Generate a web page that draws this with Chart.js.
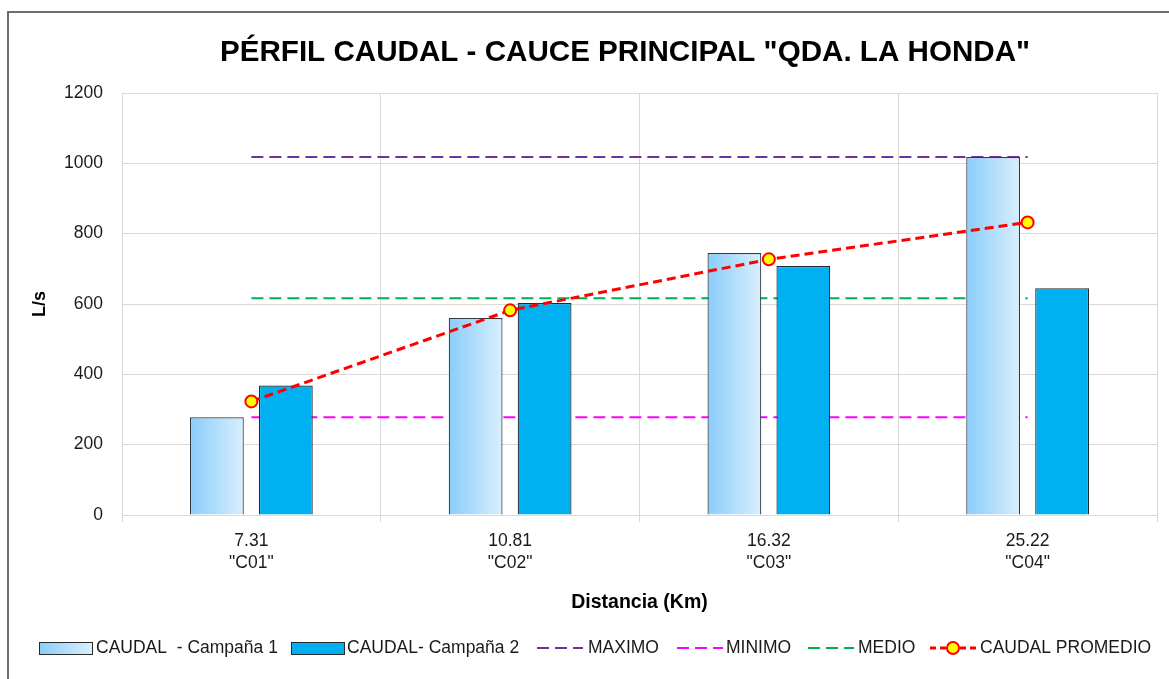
<!DOCTYPE html>
<html>
<head>
<meta charset="utf-8">
<script src="https://cdn.jsdelivr.net/npm/chart.js@4.4.1/dist/chart.umd.min.js"></script>
<style>
  html, body { margin: 0; padding: 0; background: #ffffff; }
  #wrap { position: relative; width: 1169px; height: 679px; }
  canvas { display: block; }
</style>
</head>
<body>
<div id="wrap"><canvas id="chart" width="1169" height="679"></canvas></div>
<script>
// Caudal measured at each control point, two field campaigns (L/s)
const distancias = ['7.31', '10.81', '16.32', '25.22'];
const puntos = ['"C01"', '"C02"', '"C03"', '"C04"'];
const campana1 = [278, 560, 745, 1018];
const campana2 = [368, 603, 708, 645];
const maximo = [1018, 1018, 1018, 1018];
const minimo = [278, 278, 278, 278];
const medio = [616, 616, 616, 616];
const promedio = [323, 582, 727, 832];
const yTicks = [0, 200, 400, 600, 800, 1000, 1200];

const SANS = '"Liberation Sans", Arial, sans-serif';
const TXT = 17.5;

const CAT_PCT = 0.533;
const BAR_PCT = 0.78;

// Light gradient fill for the first campaign bars
function gradCampana1(ctx) {
  const chart = ctx.chart;
  const xs = chart.scales.x;
  if (!chart.chartArea || !xs || ctx.dataIndex === undefined) return '#b4defb';
  const catW = xs.width / distancias.length;
  const band = catW * CAT_PCT;
  const barW = band / 2 * BAR_PCT;
  const cx = xs.getPixelForValue(ctx.dataIndex) - band / 4;
  const g = chart.ctx.createLinearGradient(cx - barW / 2, 0, cx + barW / 2, 0);
  g.addColorStop(0, '#8acdfa');
  g.addColorStop(1, '#d9effd');
  return g;
}

const marco = {
  id: 'marco',
  beforeDraw(chart) {
    const c = chart.ctx;
    c.save();
    c.fillStyle = '#ffffff';
    c.fillRect(0, 0, chart.width, chart.height);
    c.strokeStyle = '#6e6e6e';
    c.lineWidth = 2;
    c.beginPath();
    c.moveTo(8, chart.height);
    c.lineTo(8, 12);
    c.lineTo(chart.width, 12);
    c.stroke();
    c.restore();
  }
};

const titulo = {
  id: 'titulo',
  afterDraw(chart) {
    const c = chart.ctx;
    c.save();
    c.font = 'bold 29.6px ' + SANS;
    c.fillStyle = '#000000';
    c.textAlign = 'center';
    c.textBaseline = 'alphabetic';
    c.fillText('PÉRFIL CAUDAL - CAUCE PRINCIPAL "QDA. LA HONDA"', 625, 61);
    c.restore();
  }
};

// Legend row along the bottom
const leyenda = {
  id: 'leyenda',
  afterDraw(chart) {
    const c = chart.ctx;
    const y = 648;
    c.save();
    c.font = TXT + 'px ' + SANS;
    c.textBaseline = 'middle';
    c.textAlign = 'left';

    const g1 = c.createLinearGradient(39, 0, 92, 0);
    g1.addColorStop(0, '#8acdfa');
    g1.addColorStop(1, '#d9effd');
    c.fillStyle = g1;
    c.fillRect(39.5, 642.5, 53, 12);
    c.strokeStyle = '#2b2b2b';
    c.lineWidth = 1;
    c.strokeRect(39.5, 642.5, 53, 12);
    c.fillStyle = '#1a1a1a';
    c.fillText('CAUDAL  - Campaña 1', 96, y);

    c.fillStyle = '#00b0f0';
    c.fillRect(291.5, 642.5, 53, 12);
    c.strokeRect(291.5, 642.5, 53, 12);
    c.fillStyle = '#1a1a1a';
    c.fillText('CAUDAL- Campaña 2', 347, y);

    const lineas = [
      { x: 537, color: '#7030a0', txt: 'MAXIMO', tx: 588 },
      { x: 677, color: '#ff00ff', txt: 'MINIMO', tx: 726 },
      { x: 808, color: '#00b050', txt: 'MEDIO', tx: 858 },
      { x: 930, color: '#ff0000', txt: 'CAUDAL PROMEDIO', tx: 980, w: 3 }
    ];
    lineas.forEach(l => {
      c.strokeStyle = l.color;
      c.lineWidth = l.w || 2;
      c.setLineDash(l.w ? [6, 4] : [12, 6]);
      c.beginPath();
      c.moveTo(l.x, y);
      c.lineTo(l.x + 46, y);
      c.stroke();
      c.setLineDash([]);
      c.fillStyle = '#1a1a1a';
      c.fillText(l.txt, l.tx, y);
    });
    // marker of the average series
    c.beginPath();
    c.arc(953, y, 6, 0, Math.PI * 2);
    c.fillStyle = '#ffff00';
    c.fill();
    c.strokeStyle = '#ff0000';
    c.lineWidth = 2;
    c.stroke();
    c.restore();
  }
};

const lineBase = {
  type: 'line',
  borderWidth: 2,
  borderDash: [12, 6],
  pointRadius: 0,
  pointHoverRadius: 0,
  fill: false,
  tension: 0
};

new Chart(document.getElementById('chart'), {
  data: {
    labels: distancias.map((d, i) => [d, puntos[i]]),
    datasets: [
      { ...lineBase, label: 'MAXIMO', data: maximo, borderColor: '#7030a0', order: 3 },
      { ...lineBase, label: 'MINIMO', data: minimo, borderColor: '#ff00ff', order: 3 },
      { ...lineBase, label: 'MEDIO', data: medio, borderColor: '#00b050', order: 3 },
      {
        type: 'bar', label: 'CAUDAL  - Campaña 1', data: campana1,
        backgroundColor: gradCampana1, borderColor: '#2f3b44', borderWidth: 1.2,
        categoryPercentage: CAT_PCT, barPercentage: BAR_PCT, order: 1
      },
      {
        type: 'bar', label: 'CAUDAL- Campaña 2', data: campana2,
        backgroundColor: '#00b0f0', borderColor: '#1f2a30', borderWidth: 1.2,
        categoryPercentage: CAT_PCT, barPercentage: BAR_PCT, order: 1
      },
      {
        type: 'line', label: 'CAUDAL PROMEDIO', data: promedio,
        borderColor: '#ff0000', borderWidth: 3, borderDash: [9, 5],
        pointRadius: 6, pointBorderWidth: 2, pointBackgroundColor: '#ffff00',
        pointBorderColor: '#ff0000', fill: false, tension: 0, order: 0
      }
    ]
  },
  options: {
    responsive: false,
    animation: false,
    events: [],
    layout: { padding: { left: 20, right: 12, top: 93, bottom: 65 } },
    plugins: {
      legend: { display: false },
      title: { display: false },
      tooltip: { enabled: false }
    },
    scales: {
      x: {
        offset: true,
        grid: { offset: true, color: '#d9d9d9', tickLength: 7, drawTicks: true },
        border: { color: '#d9d9d9' },
        ticks: { color: '#1a1a1a', font: { family: SANS, size: TXT, lineHeight: 1.25 }, padding: 8, maxRotation: 0 },
        title: { display: true, text: 'Distancia (Km)', color: '#000000', font: { family: SANS, size: 19.5, weight: 'bold' }, padding: { top: 8, bottom: 0 } },
        afterFit(scale) { scale.height = 99; }
      },
      y: {
        min: 0, max: 1200,
        afterBuildTicks(scale) { scale.ticks = yTicks.map(v => ({ value: v })); },
        grid: { color: '#d9d9d9', drawTicks: false },
        border: { color: '#d9d9d9' },
        ticks: { color: '#1a1a1a', font: { family: SANS, size: TXT }, padding: 19, callback: v => String(v) },
        title: { display: true, text: 'L/s', color: '#000000', font: { family: SANS, size: 18, weight: 'bold' }, padding: { top: 9, bottom: 0 } },
        afterFit(scale) { scale.width = 102; }
      }
    }
  },
  plugins: [marco, titulo, leyenda]
});
</script>
</body>
</html>
